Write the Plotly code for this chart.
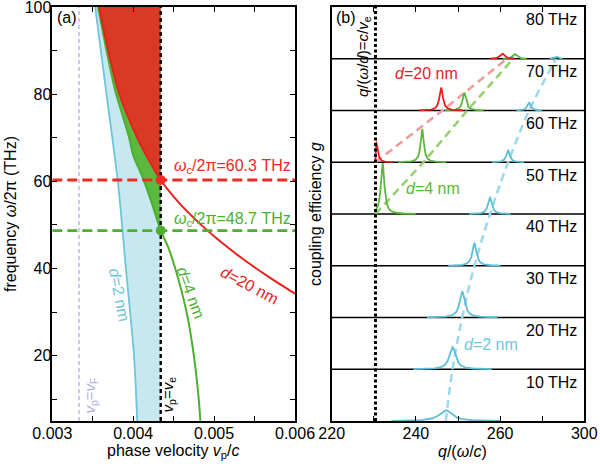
import numpy as np
import plotly.graph_objects as go

# ---------------- Panel (a) data ----------------
VF = 0.00333          # v_p = v_F
VE = 0.00434          # v_p = v_e
FC_20 = 60.3          # cutoff, d = 20 nm
FC_4 = 48.7           # cutoff, d = 4 nm
F_MIN, F_MAX = 5, 100

d2_freq = [5, 20, 40, 60, 80, 100]
d2_vp = [0.00405, 0.00401, 0.00391, 0.00381, 0.00367, 0.00353]

d4_freq = [5, 10, 20, 30, 40, 45, 48.7, 55, 60.5, 66, 70, 81, 90, 100]
d4_vp = [0.00483, 0.00481, 0.00475, 0.00466, 0.00452, 0.00443, 0.00434,
         0.00423, 0.004125, 0.0040, 0.00395, 0.003775, 0.00367, 0.003565]

d20_freq = [34.2, 38, 42, 46, 50, 55, 60.3, 66, 70, 80, 90, 100]
d20_vp = [0.00600, 0.00568, 0.00537, 0.00509, 0.00484, 0.00457, 0.00434,
          0.00416, 0.00405, 0.00383, 0.00369, 0.00358]

a_xticks = [0.003, 0.0035, 0.004, 0.0045, 0.005, 0.0055, 0.006]
a_xtext = ["0.003", "", "0.004", "", "0.005", "", "0.006"]
a_yticks = [10, 20, 30, 40, 50, 60, 70, 80, 90, 100]
a_ytext = ["", "20", "", "40", "", "60", "", "80", "", "100"]

# ---------------- Panel (b) data ----------------
QE = 230.4            # q/(w/c) = c/v_e
band_freqs = [10, 20, 30, 40, 50, 60, 70, 80]
band_labels = ["10 THz", "20 THz", "30 THz", "40 THz", "50 THz", "60 THz", "70 THz", "80 THz"]

cyan_f = [10, 20, 30, 40, 50, 60, 70, 80]
cyan_q = [247.1, 248.7, 251.0, 253.9, 257.6, 261.9, 266.9, 273.3]
cyan_h = [2.1, 4.3, 5.0, 4.3, 3.2, 2.3, 1.5, 0.4]
cyan_w = [1.8, 0.9, 0.75, 0.6, 0.55, 0.5, 0.5, 0.5]

green_f = [50, 60, 70, 80]
green_q = [232.1, 241.5, 251.5, 263.5]
green_h = [9.8, 6.4, 3.4, 0.9]
green_w = [0.5, 0.45, 0.5, 0.6]

red_f = [60, 70, 80]
red_q = [230.6, 246.0, 260.5]
red_h = [3.8, 4.4, 1.0]
red_w = [0.4, 0.5, 0.6]

green_dash_q = [230.4, 241.8, 252.2, 263.1]
green_dash_f = [50, 60, 70, 80]
red_dash_q = [230.4, 246.3, 261.6]
red_dash_f = [60, 70, 80]

b_xticks = [220, 230, 240, 250, 260, 270, 280]
b_xtext = ["220", "", "240", "", "260", "", "300"]

# ---------------- Styles ----------------
FONT = "Liberation Sans, Arial, Helvetica, sans-serif"
RED_FILL = "#d83a26"
RED_LINE = "#e8201c"
GREEN_FILL = "#5db840"
GREEN_LINE = "#4caf30"
BLUE_FILL = "#c8e8f1"
CYAN = "#6cc5dc"
LAV = "#aeb0e6"
RED_DASH = "#f29a9a"
GREEN_DASH = "#93d06f"
CYAN_DASH = "#9ad8ec"

fig = go.Figure()

# ---- Panel (a) fills ----
def region(freq, vp):
    pts = [(f, v) for f, v in zip(freq, vp) if v <= VE + 1e-9]
    fs = [p[0] for p in pts]
    vs = [p[1] for p in pts]
    xs = vs + [VE, VE]
    ys = fs + [F_MAX, fs[0]]
    return xs, ys

for freq, vp, col in [(d2_freq, d2_vp, BLUE_FILL), (d4_freq, d4_vp, GREEN_FILL),
                      (d20_freq, d20_vp, RED_FILL)]:
    xs, ys = region(freq, vp)
    fig.add_trace(go.Scatter(x=xs, y=ys, fill="toself", fillcolor=col, mode="lines",
                             line=dict(width=0), hoverinfo="skip", showlegend=False,
                             xaxis="x", yaxis="y"))

# curves
for freq, vp, col, w in [(d2_freq, d2_vp, CYAN, 1.8), (d4_freq, d4_vp, GREEN_LINE, 2),
                         (d20_freq, d20_vp, RED_LINE, 2)]:
    fig.add_trace(go.Scatter(x=vp, y=freq, mode="lines", line_shape="spline",
                             line=dict(color=col, width=w, smoothing=0.8),
                             showlegend=False, xaxis="x", yaxis="y"))

# v_F line
fig.add_trace(go.Scatter(x=[VF, VF], y=[F_MIN, F_MAX], mode="lines",
                         line=dict(color=LAV, width=1.3, dash="4px,3px"),
                         showlegend=False, xaxis="x", yaxis="y"))
# cutoff horizontals
fig.add_trace(go.Scatter(x=[0.003, 0.006], y=[FC_20, FC_20], mode="lines",
                         line=dict(color="#ee2a24", width=2.8, dash="10px,5px"),
                         showlegend=False, xaxis="x", yaxis="y"))
fig.add_trace(go.Scatter(x=[0.003, 0.006], y=[FC_4, FC_4], mode="lines",
                         line=dict(color=GREEN_LINE, width=2.8, dash="10px,5px"),
                         showlegend=False, xaxis="x", yaxis="y"))
# v_e line
fig.add_trace(go.Scatter(x=[VE, VE], y=[F_MIN, F_MAX], mode="lines",
                         line=dict(color="black", width=2.4, dash="4px,3px"),
                         showlegend=False, xaxis="x", yaxis="y"))
# markers
fig.add_trace(go.Scatter(x=[VE], y=[FC_20], mode="markers",
                         marker=dict(color="#ee2a24", size=10), showlegend=False,
                         xaxis="x", yaxis="y"))
fig.add_trace(go.Scatter(x=[VE], y=[FC_4], mode="markers",
                         marker=dict(color=GREEN_LINE, size=10), showlegend=False,
                         xaxis="x", yaxis="y"))

# ---- Panel (b) ----
qgrid = np.linspace(220, 280, 2401)

def lorentz_traces(fs, qs, hs, ws, col):
    for f, q0, h, w in zip(fs, qs, hs, ws):
        g = h / (1 + ((qgrid - q0) / w) ** 2)
        g[qgrid < QE] = 0
        keep = g >= 0.04
        keep = keep | np.roll(keep, -1) | np.roll(keep, 1)
        y = np.where(keep, f + g, np.nan)
        fig.add_trace(go.Scatter(x=qgrid, y=y, mode="lines", connectgaps=False,
                                 line=dict(color=col, width=1.8),
                                 showlegend=False, xaxis="x2", yaxis="y2"))

# dashed dispersion lines
fig.add_trace(go.Scatter(x=red_dash_q, y=red_dash_f, mode="lines",
                         line=dict(color=RED_DASH, width=2.5, dash="8px,5px"),
                         showlegend=False, xaxis="x2", yaxis="y2"))
fig.add_trace(go.Scatter(x=green_dash_q, y=green_dash_f, mode="lines",
                         line=dict(color=GREEN_DASH, width=2.5, dash="8px,5px"),
                         showlegend=False, xaxis="x2", yaxis="y2"))
fig.add_trace(go.Scatter(x=cyan_q, y=cyan_f, mode="lines", line_shape="spline",
                         line=dict(color=CYAN_DASH, width=2.5, dash="8px,5px"),
                         showlegend=False, xaxis="x2", yaxis="y2"))

lorentz_traces(cyan_f, cyan_q, cyan_h, cyan_w, "#5bbfd8")
lorentz_traces(green_f, green_q, green_h, green_w, "#5ab83a")
lorentz_traces(red_f, red_q, red_h, red_w, "#e8201c")

# c/v_e line
fig.add_trace(go.Scatter(x=[QE, QE], y=[10, 90], mode="lines",
                         line=dict(color="black", width=3, dash="3px,2.5px"),
                         showlegend=False, xaxis="x2", yaxis="y2"))

shapes = []
for f in band_freqs[1:]:
    shapes.append(dict(type="line", xref="x2", yref="y2", x0=220, x1=280, y0=f, y1=f,
                       line=dict(color="black", width=1.3), layer="below"))

ann = []
def A(text, x, y, xref="paper", yref="paper", size=16, color="black", angle=0,
      xanchor="center", yanchor="middle"):
    ann.append(dict(text=text, x=x, y=y, xref=xref, yref=yref, showarrow=False,
                    font=dict(family=FONT, size=size, color=color), textangle=angle,
                    xanchor=xanchor, yanchor=yanchor))

W, H = 600, 469
def px(xp): return xp / W
def py(yp): return 1 - yp / H

# axis titles
A("frequency <i>ω</i>/2π (THz)", px(11), py(214), angle=-90)
A("coupling efficiency <i>g</i>", px(316), py(214), angle=-90)
A("phase velocity <i>v</i><sub>p</sub>/<i>c</i>", px(173), py(451))
A("<i>q</i>/(<i>ω</i>/<i>c</i>)", px(462), py(451))

# panel a labels
A("(a)", px(67), py(18))
A("<i>ω</i><sub>c</sub>/2π=60.3 THz", 0.00598, 63.4, "x", "y", 16, "#ee2a24", xanchor="right")
A("<i>ω</i><sub>c</sub>/2π=48.7 THz", 0.00598, 51.2, "x", "y", 16, GREEN_LINE, xanchor="right")
A("<i>d</i>=20 nm", 0.00544, 36.0, "x", "y", 16, RED_LINE, angle=28)
A("<i>d</i>=4 nm", 0.00471, 34.5, "x", "y", 16, GREEN_LINE, angle=70)
A("<i>d</i>=2 nm", 0.00383, 33.8, "x", "y", 16, CYAN, angle=79)
A("<i>v</i><sub>p</sub>=<i>v</i><sub>F</sub>", 0.00347, 10.9, "x", "y", 15, LAV, angle=-90)
A("<i>v</i><sub>p</sub>=<i>v</i><sub>e</sub>", 0.00443, 11.1, "x", "y", 15, "black", angle=-90)

# panel b labels
A("(b)", px(346), py(18))
for f, lab in zip(band_freqs, band_labels):
    A(lab, 278.8, f + 7.5, "x2", "y2", 16, "black", xanchor="right")
A("<i>q</i>/(<i>ω</i>/<i>d</i>)=<i>c</i>/<i>v</i><sub>e</sub>", 227.4, 80.5, "x2", "y2", 15,
  "black", angle=-90)
A("<i>d</i>=20 nm", 242.5, 77.2, "x2", "y2", 16, RED_LINE)
A("<i>d</i>=4 nm", 244.1, 55, "x2", "y2", 16, "#5ab83a")
A("<i>d</i>=2 nm", 257.8, 24.7, "x2", "y2", 16, "#6cc8e0")

YDOM = [1 - 421 / H, 1 - 7 / H]
axis_common = dict(showline=True, linecolor="black", linewidth=1.5, showgrid=False,
                   zeroline=False, tickfont=dict(family=FONT, size=16, color="black"),
                   ticks="inside", ticklen=5, tickwidth=1.3, tickcolor="black",
                   automargin=False, ticklabeloverflow="allow")

fig.update_layout(
    width=W, height=H, margin=dict(l=0, r=0, t=0, b=0, autoexpand=False),
    paper_bgcolor="white", plot_bgcolor="white", showlegend=False,
    xaxis=dict(domain=[52.3 / W, 295 / W], range=[0.003, 0.006], tickmode="array",
               tickvals=a_xticks, ticktext=a_xtext, mirror="ticks", anchor="y",
               ticklabelstandoff=-3, **axis_common),
    yaxis=dict(domain=YDOM, range=[F_MIN, F_MAX], tickmode="array",
               tickvals=a_yticks, ticktext=a_ytext, mirror="ticks", anchor="x",
               ticklabelstandoff=-4, **axis_common),
    xaxis2=dict(domain=[331.7 / W, 584.3 / W], range=[220, 280], tickmode="array",
                tickvals=b_xticks, ticktext=b_xtext, mirror="ticks", anchor="y2",
                ticklabelstandoff=-3, **axis_common),
    yaxis2=dict(domain=YDOM, range=[10, 90], showticklabels=False, anchor="x2",
                showline=True, linecolor="black", linewidth=1.5, mirror=True,
                showgrid=False, zeroline=False, ticks="", automargin=False),
    shapes=shapes, annotations=ann,
)

fig.write_html("out.html", config={"displayModeBar": False},
               post_script="document.body.style.margin='0px';document.body.style.overflow='hidden';")
